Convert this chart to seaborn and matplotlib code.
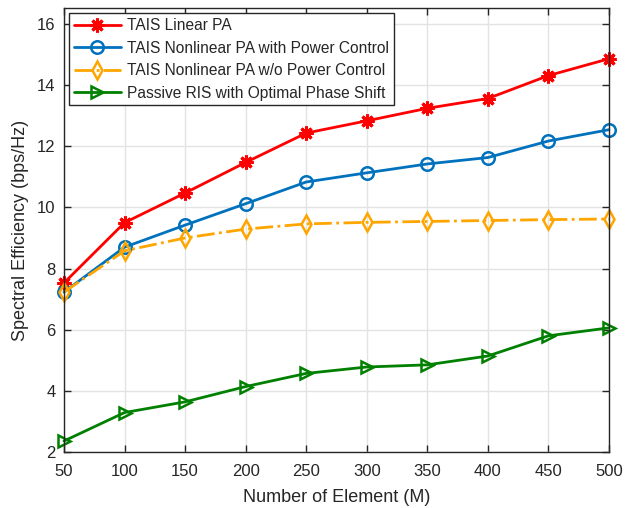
import numpy as np
import pandas as pd
import matplotlib
matplotlib.use('Agg')
import matplotlib.pyplot as plt
import seaborn as sns

# data
elementos = [50, 100, 150, 200, 250, 300, 350, 400, 450, 500]
se_linear = [7.53, 9.50, 10.47, 11.47, 12.43, 12.83, 13.24, 13.56, 14.31, 14.86]
se_nl_pc = [7.23, 8.70, 9.42, 10.12, 10.83, 11.13, 11.42, 11.63, 12.17, 12.54]
se_nl_sem_pc = [7.23, 8.58, 9.00, 9.29, 9.46, 9.51, 9.54, 9.57, 9.60, 9.62]
se_passivo = [2.36, 3.29, 3.64, 4.14, 4.57, 4.78, 4.85, 5.14, 5.80, 6.06]

nomes = ['TAIS Linear PA',
         'TAIS Nonlinear PA with Power Control',
         'TAIS Nonlinear PA w/o Power Control',
         'Passive RIS with Optimal Phase Shift']

sns.set_theme(style='whitegrid')
plt.rcParams['font.family'] = ['Liberation Sans', 'DejaVu Sans']

fig = plt.figure(figsize=(6.32, 5.08), dpi=100)
# eixo: x 64..609 px, y 8..452 px
ax = fig.add_axes([64/632, 1 - 452/508, 545/632, 444/508])

estilos = [
    dict(color='#ff0000', marker=(8, 2, 0), linestyle='-', ms=10, mew=2.2),
    dict(color='#0072bd', marker='o', linestyle='-', ms=9, mew=1.8, mfc='none'),
    dict(color='#ffa500', marker='d', linestyle='-.', ms=9, mew=1.8, mfc='none'),
    dict(color='#008000', marker='>', linestyle='-', ms=9, mew=1.8, mfc='none'),
]
series = [se_linear, se_nl_pc, se_nl_sem_pc, se_passivo]

for nome, valores, st in zip(nomes, series, estilos):
    df = pd.DataFrame({'M': elementos, 'SE': valores})
    sns.lineplot(data=df, x='M', y='SE', ax=ax, label=nome, lw=2,
                 color=st['color'], linestyle=st['linestyle'],
                 marker=st['marker'], markersize=st['ms'],
                 markeredgewidth=st['mew'], markeredgecolor=st['color'],
                 markerfacecolor=st.get('mfc', st['color']), clip_on=False)

ax.set_xlim(50, 500)
ax.set_ylim(2, 16.52)
ax.set_xticks(elementos)
ax.set_yticks(np.arange(2, 17, 2))
ax.grid(True, color='#e3e3e3', lw=1)
for s in ax.spines.values():
    s.set_visible(True)
    s.set_color('#262626')
    s.set_linewidth(1)
ax.tick_params(direction='in', length=5, width=1, colors='#262626',
               labelsize=12, top=True, right=True, bottom=True, left=True,
               labelcolor='#262626', pad=6)
ax.tick_params(axis='x', pad=9)
ax.set_xlabel('Number of Element (M)', fontsize=13, color='#262626', labelpad=7)
ax.set_ylabel('Spectral Efficiency (bps/Hz)', fontsize=13, color='#262626', labelpad=6)

leg = ax.legend(loc='upper left', fontsize=11.2, frameon=True, fancybox=False,
                borderaxespad=0.35, handlelength=3.0, labelspacing=0.48,
                borderpad=0.3, handletextpad=0.4)
leg.get_frame().set_edgecolor('#262626')
leg.get_frame().set_linewidth(1)
leg.get_frame().set_alpha(1)

fig.savefig('out.png', dpi=100)
